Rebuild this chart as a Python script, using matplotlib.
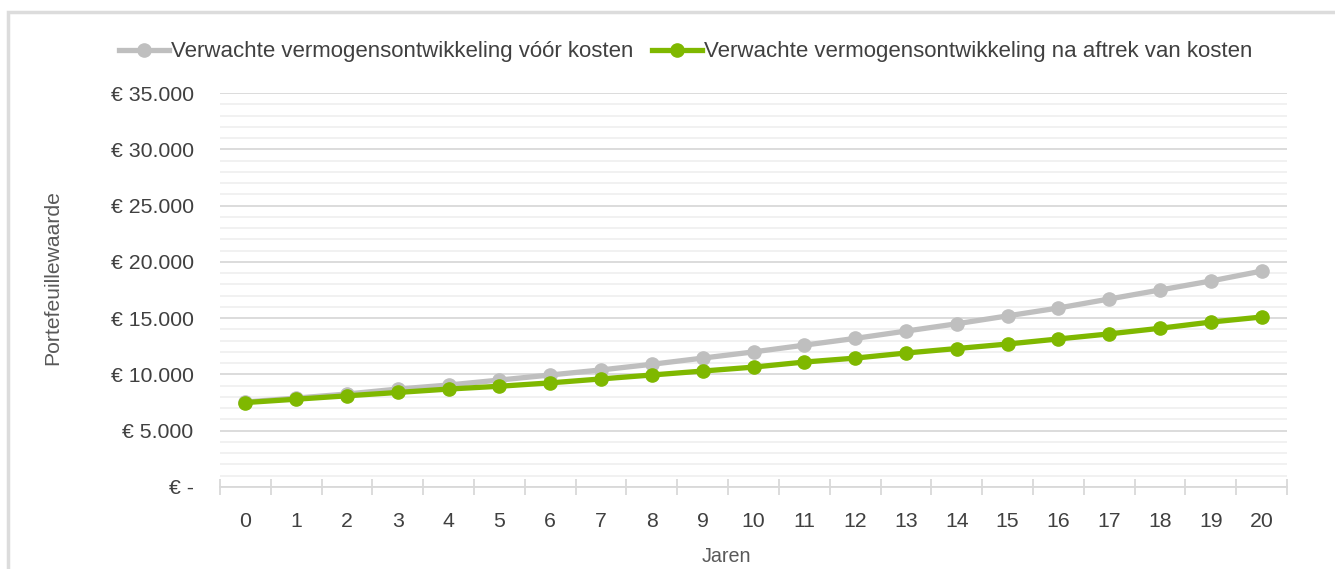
import matplotlib
matplotlib.use("Agg")
import matplotlib.pyplot as plt
from matplotlib.ticker import MultipleLocator, FuncFormatter
from matplotlib.patches import Rectangle

# data (euro)
jaren = list(range(21))
voor_kosten = [7550, 7900, 8260, 8700, 9060, 9500, 9950, 10400, 10900, 11450,
               12000, 12600, 13200, 13850, 14500, 15200, 15900, 16700, 17500,
               18300, 19180]
na_kosten = [7500, 7800, 8100, 8400, 8700, 8950, 9250, 9600, 9950, 10300,
             10650, 11100, 11450, 11900, 12300, 12700, 13150, 13600, 14100,
             14650, 15100]
label_voor = "Verwachte vermogensontwikkeling vóór kosten"
label_na = "Verwachte vermogensontwikkeling na aftrek van kosten"

GRAY = "#BFBFBF"
GREEN = "#7FB800"
TXT = "#404040"

plt.rcParams['font.family'] = ['Liberation Sans', 'DejaVu Sans']

W, H = 1335, 569
fig = plt.figure(figsize=(W / 100, H / 100), dpi=100)

# outer chart border (runs off the right/bottom edge)
fig.patches.append(Rectangle((8 / W, -0.1), 1.2, 1 - 12 / H + 0.1,
                             transform=fig.transFigure, fill=False,
                             edgecolor="#DCDCDC", linewidth=2.5))

ax = fig.add_axes([220 / W, 1 - 487 / H, (1287 - 220) / W, (487 - 93) / H])

ax.plot(jaren, voor_kosten, color=GRAY, lw=3.8, marker='o', ms=9.5,
        label=label_voor, zorder=3)
ax.plot(jaren, na_kosten, color=GREEN, lw=3.8, marker='o', ms=9.5,
        label=label_na, zorder=4)

ax.set_xlim(-0.5, 20.5)
ax.set_ylim(0, 35000)
ax.yaxis.set_major_locator(MultipleLocator(5000))
ax.yaxis.set_minor_locator(MultipleLocator(1000))
ax.yaxis.set_major_formatter(FuncFormatter(
    lambda v, p: "€ -" if v == 0 else "€ " + f"{int(v):,}".replace(",", ".")))
ax.grid(axis='y', which='major', color="#D9D9D9", lw=1.3, zorder=0)
ax.grid(axis='y', which='minor', color="#F0F0F0", lw=1.3, zorder=0)
ax.set_axisbelow(True)

ax.set_xticks(jaren)
ax.set_xticks([j - 0.5 for j in jaren] + [20.5], minor=True)
ax.tick_params(axis='x', which='major', length=0, pad=18, labelsize=15.3,
               labelcolor=TXT)
ax.tick_params(axis='x', which='minor', direction='inout', length=11.5,
               color="#D9D9D9", width=1.3)
ax.tick_params(axis='y', which='both', length=0, pad=19, labelsize=15.3,
               labelcolor=TXT)

for s in ['left', 'right', 'top']:
    ax.spines[s].set_visible(False)
ax.spines['bottom'].set_color("#D9D9D9")
ax.spines['bottom'].set_linewidth(1.3)

xl = ax.set_xlabel("Jaren", fontsize=14.2, color="#595959")
xl.set_va('center')
ax.xaxis.set_label_coords((726 - 220) / 1067, (487 - 557) / 394)
yl = ax.set_ylabel("Portefeuillewaarde", fontsize=15.2, color="#595959")
yl.set_va('center')
ax.yaxis.set_label_coords((53 - 220) / 1067, (487 - 278) / 394)

leg = fig.legend(loc='center', bbox_to_anchor=(686 / W, 1 - 52 / H), ncol=2,
                 frameon=False, handlelength=2.25, handletextpad=0.08,
                 columnspacing=0.85, prop={'size': 16})
for t in leg.get_texts():
    t.set_color(TXT)

fig.savefig("out.png", dpi=100)
